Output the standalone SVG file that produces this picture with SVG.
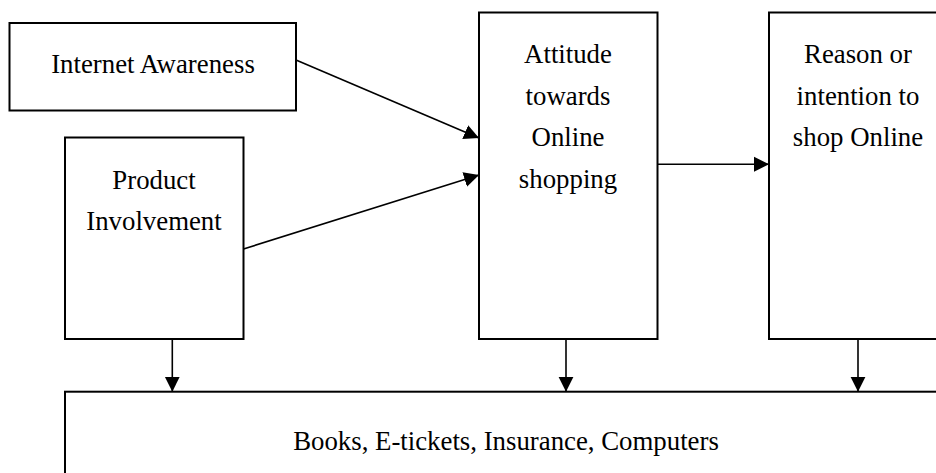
<svg xmlns="http://www.w3.org/2000/svg" width="936" height="473" viewBox="0 0 936 473">
<style>
.box{fill:#fff;stroke:#000;stroke-width:2}
.lbl{font-family:"Liberation Serif","Times New Roman",serif;font-size:26.8px;fill:#000;text-anchor:middle}
.con{stroke:#000;stroke-width:1.6;fill:none;marker-end:url(#ah)}
</style>
<defs>
<marker id="ah" markerUnits="userSpaceOnUse" markerWidth="16" markerHeight="16" viewBox="0 0 16 16" refX="15" refY="8" orient="auto">
<path d="M0,0.5 L15,8 L0,15.5 Z" fill="#000"/>
</marker>
</defs>
<rect width="936" height="473" fill="#fff"/>
<g id="internet-awareness">
<rect class="box" x="9.5" y="23" width="286.5" height="87.5"/>
<text class="lbl" x="153" y="73">Internet Awareness</text>
</g>
<g id="product-involvement">
<rect class="box" x="65" y="137.5" width="178.5" height="201.5"/>
<text class="lbl" x="154" y="189">Product</text>
<text class="lbl" x="154" y="230">Involvement</text>
</g>
<g id="attitude">
<rect class="box" x="479" y="12.5" width="178.5" height="326.5"/>
<text class="lbl" x="568" y="63">Attitude</text>
<text class="lbl" x="568" y="104.5">towards</text>
<text class="lbl" x="568" y="146">Online</text>
<text class="lbl" x="568" y="187.5">shopping</text>
</g>
<g id="reason">
<rect class="box" x="769" y="12.5" width="180" height="326.5"/>
<text class="lbl" x="858" y="63">Reason or</text>
<text class="lbl" x="858" y="104.5">intention to</text>
<text class="lbl" x="858" y="146">shop Online</text>
</g>
<g id="products">
<rect class="box" x="65" y="391.7" width="890" height="100"/>
<text class="lbl" x="506" y="450">Books, E-tickets, Insurance, Computers</text>
</g>
<g id="connectors">
<line class="con" x1="296" y1="60" x2="479" y2="138"/>
<line class="con" x1="243.5" y1="249" x2="479" y2="175"/>
<line class="con" x1="657.5" y1="164.3" x2="769" y2="164.3"/>
<line class="con" x1="172.3" y1="339" x2="172.3" y2="391.7"/>
<line class="con" x1="566" y1="339" x2="566" y2="391.7"/>
<line class="con" x1="858" y1="339" x2="858" y2="391.7"/>
</g>
</svg>
